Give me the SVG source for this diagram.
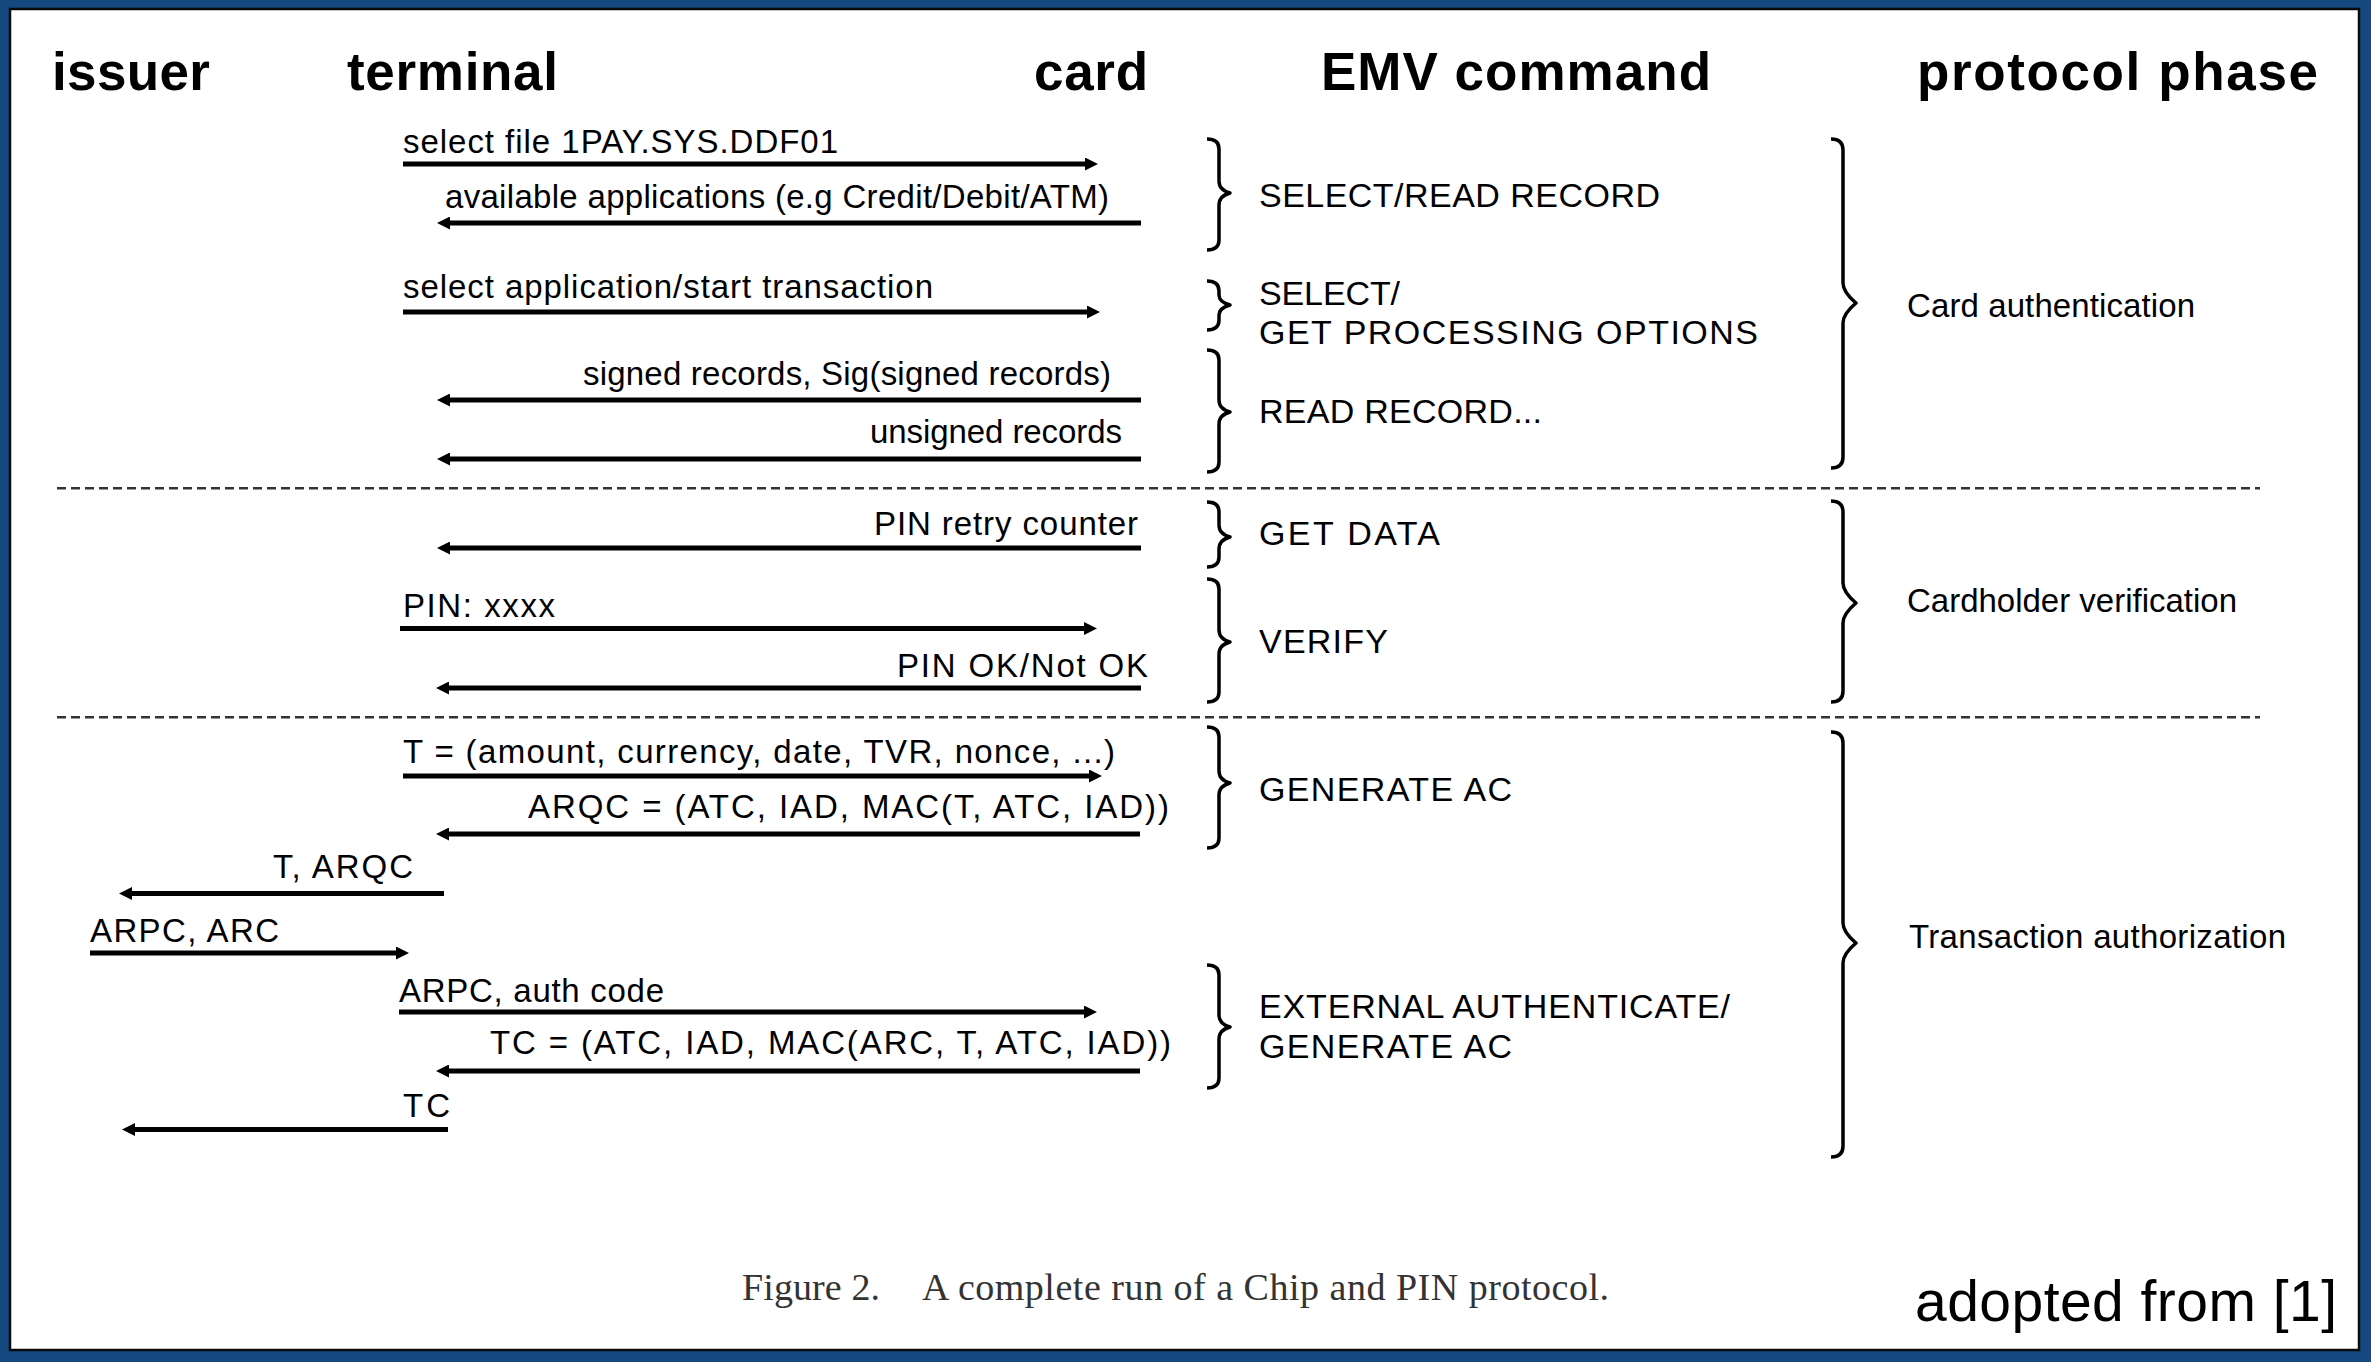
<svg xmlns="http://www.w3.org/2000/svg" width="2371" height="1362" viewBox="0 0 2371 1362">
<style>
.hdr{font-family:"Liberation Sans",Arial,sans-serif;font-weight:bold;font-size:53px;fill:#000}
.lbl{font-family:"Liberation Sans",Arial,sans-serif;font-size:33px;fill:#000}
.emv{font-family:"Liberation Sans",Arial,sans-serif;font-size:34px;fill:#000}
.ph{font-family:"Liberation Sans",Arial,sans-serif;font-size:33px;fill:#000}
.cap{font-family:"Liberation Serif","Times New Roman",serif;font-size:38px;fill:#333}
.src{font-family:"Liberation Sans",Arial,sans-serif;font-size:57px;fill:#000}
.msg{stroke:#000;stroke-width:5;fill:none;marker-end:url(#ah)}
.brace{stroke:#000;stroke-width:3.5;fill:none;stroke-linejoin:round}
.sep{stroke:#333;stroke-width:2.5;stroke-dasharray:9 5;fill:none}
</style>
<defs>
<marker id="ah" markerUnits="userSpaceOnUse" viewBox="0 0 13 13" refX="5" refY="6.5" markerWidth="13" markerHeight="13" orient="auto">
<path d="M0,0 L13,6.5 L0,13 z" fill="#000"/>
</marker>
</defs>
<rect x="0" y="0" width="2371" height="1362" fill="#15487f"/>
<rect x="10" y="9" width="2349" height="1341" fill="#fff" stroke="#0a0a0a" stroke-width="2.5"/>

<g id="headers">
<text class="hdr" x="52" y="90" textLength="158" lengthAdjust="spacing">issuer</text>
<text class="hdr" x="347" y="90" textLength="211" lengthAdjust="spacing">terminal</text>
<text class="hdr" x="1034" y="90" textLength="114" lengthAdjust="spacing">card</text>
<text class="hdr" x="1321" y="90" textLength="390" lengthAdjust="spacing">EMV command</text>
<text class="hdr" x="1917" y="90" textLength="401" lengthAdjust="spacing">protocol phase</text>
</g>

<g id="connectors">
<path class="msg" d="M403,164 H1090"/>
<path class="msg" d="M1141,223 H445"/>
<path class="msg" d="M403,312 H1092"/>
<path class="msg" d="M1141,400 H445"/>
<path class="msg" d="M1141,459 H445"/>
<path class="msg" d="M1141,548 H445"/>
<path class="msg" d="M400,628.5 H1089"/>
<path class="msg" d="M1141,688 H444"/>
<path class="msg" d="M403,776 H1094"/>
<path class="msg" d="M1140,834 H444"/>
<path class="msg" d="M444,893.5 H127"/>
<path class="msg" d="M90,953 H401"/>
<path class="msg" d="M399,1012 H1089"/>
<path class="msg" d="M1140,1071 H444"/>
<path class="msg" d="M448,1129.5 H130"/>
<path class="sep" d="M57,488.3 H2260"/>
<path class="sep" d="M57,717.3 H2260"/>
</g>

<g id="messages">
<text class="lbl" x="403" y="153" textLength="435" lengthAdjust="spacing">select file 1PAY.SYS.DDF01</text>
<text class="lbl" x="445" y="208" textLength="664" lengthAdjust="spacing">available applications (e.g Credit/Debit/ATM)</text>
<text class="lbl" x="403" y="298" textLength="530" lengthAdjust="spacing">select application/start transaction</text>
<text class="lbl" x="583" y="385" textLength="528" lengthAdjust="spacing">signed records, Sig(signed records)</text>
<text class="lbl" x="870" y="443" textLength="252" lengthAdjust="spacing">unsigned records</text>
<text class="lbl" x="874" y="535" textLength="264" lengthAdjust="spacing">PIN retry counter</text>
<text class="lbl" x="403" y="617" textLength="152" lengthAdjust="spacing">PIN: xxxx</text>
<text class="lbl" x="897" y="677" textLength="251" lengthAdjust="spacing">PIN OK/Not OK</text>
<text class="lbl" x="403" y="763" textLength="712" lengthAdjust="spacing">T = (amount, currency, date, TVR, nonce, ...)</text>
<text class="lbl" x="528" y="818" textLength="641" lengthAdjust="spacing">ARQC = (ATC, IAD, MAC(T, ATC, IAD))</text>
<text class="lbl" x="273" y="878" textLength="140" lengthAdjust="spacing">T, ARQC</text>
<text class="lbl" x="90" y="942" textLength="189" lengthAdjust="spacing">ARPC, ARC</text>
<text class="lbl" x="399" y="1002" textLength="265" lengthAdjust="spacing">ARPC, auth code</text>
<text class="lbl" x="490" y="1054" textLength="681" lengthAdjust="spacing">TC = (ATC, IAD, MAC(ARC, T, ATC, IAD))</text>
<text class="lbl" x="403" y="1117" textLength="47" lengthAdjust="spacing">TC</text>
</g>

<g id="emv-select-read">
<path class="brace" d="M1207,139 Q1219,139 1219,149 L1219,181 Q1219,190 1230,193 Q1219,196 1219,205 L1219,240 Q1219,250 1207,250"/>
<text class="emv" x="1259" y="207" textLength="401" lengthAdjust="spacing">SELECT/READ RECORD</text>
</g>
<g id="emv-select-gpo">
<path class="brace" d="M1207,281 Q1219,281 1219,291 L1219,295 Q1219,302 1230,305 Q1219,308 1219,315 L1219,320 Q1219,330 1207,330"/>
<text class="emv" x="1259" y="305" textLength="141" lengthAdjust="spacing">SELECT/</text>
<text class="emv" x="1259" y="344" textLength="499" lengthAdjust="spacing">GET PROCESSING OPTIONS</text>
</g>
<g id="emv-read-record">
<path class="brace" d="M1207,350 Q1219,350 1219,360 L1219,400 Q1219,409 1230,412 Q1219,415 1219,424 L1219,462 Q1219,472 1207,472"/>
<text class="emv" x="1259" y="423" textLength="283" lengthAdjust="spacing">READ RECORD...</text>
</g>
<g id="emv-get-data">
<path class="brace" d="M1207,502 Q1219,502 1219,512 L1219,525 Q1219,534 1230,537 Q1219,540 1219,549 L1219,557 Q1219,567 1207,567"/>
<text class="emv" x="1259" y="545" textLength="181" lengthAdjust="spacing">GET DATA</text>
</g>
<g id="emv-verify">
<path class="brace" d="M1207,579 Q1219,579 1219,589 L1219,630 Q1219,639 1230,642 Q1219,645 1219,654 L1219,692 Q1219,702 1207,702"/>
<text class="emv" x="1259" y="653" textLength="129" lengthAdjust="spacing">VERIFY</text>
</g>
<g id="emv-generate-ac">
<path class="brace" d="M1207,727 Q1219,727 1219,737 L1219,771 Q1219,780 1230,783 Q1219,786 1219,795 L1219,838 Q1219,848 1207,848"/>
<text class="emv" x="1259" y="801" textLength="253" lengthAdjust="spacing">GENERATE AC</text>
</g>
<g id="emv-external-auth">
<path class="brace" d="M1207,965 Q1219,965 1219,975 L1219,1015 Q1219,1024 1230,1027 Q1219,1030 1219,1039 L1219,1078 Q1219,1088 1207,1088"/>
<text class="emv" x="1259" y="1018" textLength="471" lengthAdjust="spacing">EXTERNAL AUTHENTICATE/</text>
<text class="emv" x="1259" y="1058" textLength="253" lengthAdjust="spacing">GENERATE AC</text>
</g>

<g id="phase-card-auth">
<path class="brace" d="M1831,139 Q1843,139 1843,150 L1843,283 Q1843,292 1856,303 Q1843,314 1843,323 L1843,457 Q1843,468 1831,468"/>
<text class="ph" x="1907" y="317" textLength="288" lengthAdjust="spacing">Card authentication</text>
</g>
<g id="phase-cardholder">
<path class="brace" d="M1831,501 Q1843,501 1843,512 L1843,583 Q1843,592 1856,603 Q1843,614 1843,623 L1843,691 Q1843,702 1831,702"/>
<text class="ph" x="1907" y="612" textLength="330" lengthAdjust="spacing">Cardholder verification</text>
</g>
<g id="phase-transaction">
<path class="brace" d="M1831,732 Q1843,732 1843,743 L1843,923 Q1843,932 1856,943 Q1843,954 1843,963 L1843,1146 Q1843,1157 1831,1157"/>
<text class="ph" x="1909" y="948" textLength="377" lengthAdjust="spacing">Transaction authorization</text>
</g>

<g id="caption">
<text class="cap" x="742" y="1300" textLength="138" lengthAdjust="spacing">Figure 2.</text>
<text class="cap" x="922" y="1300" textLength="687" lengthAdjust="spacing">A complete run of a Chip and PIN protocol.</text>
<text class="src" x="1915" y="1321" textLength="422" lengthAdjust="spacing">adopted from [1]</text>
</g>
</svg>
